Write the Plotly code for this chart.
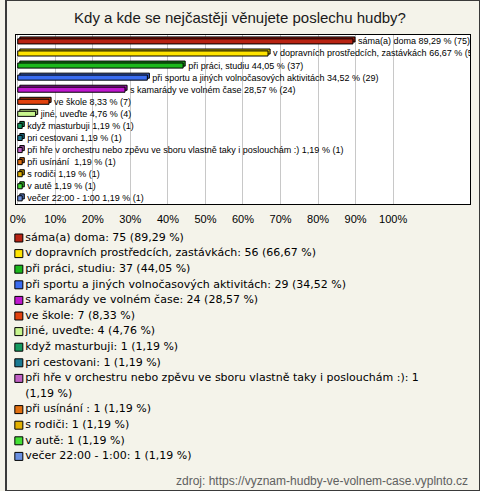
import textwrap
import plotly.graph_objects as go

title = "Kdy a kde se nejčastěji věnujete poslechu hudby?"
source = "zdroj: https://vyznam-hudby-ve-volnem-case.vyplnto.cz"

categories = [
    "sáma(a) doma",
    "v dopravních prostředcích, zastávkách",
    "při práci, studiu",
    "při sportu a jiných volnočasových aktivitách",
    "s kamarády ve volném čase",
    "ve škole",
    "jiné, uveďte",
    "když masturbuji",
    "pri cestovani",
    "při hře v orchestru nebo zpěvu ve sboru vlastně taky i poslouchám :)",
    "při usínání ",
    "s rodiči",
    "v autě",
    "večer 22:00 - 1:00",
]
counts = [75, 56, 37, 29, 24, 7, 4, 1, 1, 1, 1, 1, 1, 1]
percents = [89.29, 66.67, 44.05, 34.52, 28.57, 8.33, 4.76, 1.19, 1.19, 1.19, 1.19, 1.19, 1.19, 1.19]
colors = [
    "#b82312", "#ffe400", "#1cb81c", "#3a6cf0", "#c018d0", "#e2420e", "#c8f68e",
    "#159a5e", "#1a7a92", "#c060c4", "#e27010", "#e2b000", "#44e034", "#6a90e0",
]
tick_vals = [0, 10, 20, 30, 40, 50, 60, 70, 80, 90, 100]
tick_text = [f"{v}%" for v in tick_vals]


def fmt(p):
    return f"{p:.2f}".replace(".", ",")


def shade(hexcol, k):
    h = hexcol.lstrip("#")
    r, g, b = (int(h[i:i + 2], 16) for i in (0, 2, 4))
    return "#%02x%02x%02x" % (int(r * k), int(g * k), int(b * k))


bar_labels = ["\u00a0\u00a0" + f"{c} {fmt(p)} % ({n})" for c, p, n in zip(categories, percents, counts)]

W, H = 480, 491
BAR_W = 0.42
DEPTH_Y = 0.13   # 3D depth (category units)
DEPTH_X = 0.55   # 3D depth (percent units)

fig = go.Figure()

# 3D back face (drawn first)
fig.add_trace(go.Bar(
    y=categories, x=percents, base=DEPTH_X, orientation="h",
    marker=dict(color=[shade(c, 0.8) for c in colors], line=dict(color="#000000", width=1)),
    width=BAR_W, offset=-BAR_W / 2 - DEPTH_Y,
    hoverinfo="skip", showlegend=False, xaxis="x", yaxis="y",
))
# front face
fig.add_trace(go.Bar(
    y=categories, x=percents, orientation="h",
    marker=dict(color=colors, line=dict(color="#000000", width=1)),
    width=BAR_W, offset=-BAR_W / 2 + 0.03,
    text=bar_labels, textposition="outside", constraintext="none",
    textfont=dict(family="Liberation Sans", size=9, color="#000000"),
    cliponaxis=True, hoverinfo="skip", showlegend=False,
    xaxis="x", yaxis="y",
))

# legend drawn as scatter on an overlay pixel-space axis
LEG_Y0 = 238
LEG_DY = 15.6
mk_x, mk_y, mk_c = [], [], []
tx_y, tx_t = [], []
line = 0
for c, p, n, col in zip(categories, percents, counts, colors):
    label = f"{c}: {n} ({fmt(p)} %)"
    parts = textwrap.wrap(label, 72)
    mk_y.append(LEG_Y0 + line * LEG_DY)
    mk_x.append(13)
    mk_c.append(col)
    for part in parts:
        tx_y.append(LEG_Y0 + line * LEG_DY)
        tx_t.append(part)
        line += 1

fig.add_trace(go.Scatter(
    x=mk_x, y=mk_y, mode="markers",
    marker=dict(symbol="square", size=8, color=mk_c, line=dict(color="#000000", width=1)),
    hoverinfo="skip", showlegend=False, xaxis="x2", yaxis="y2",
))
fig.add_trace(go.Scatter(
    x=[19.5] * len(tx_y), y=tx_y, mode="text", text=tx_t, textposition="middle right",
    textfont=dict(family="DejaVu Sans", size=11, color="#000000"),
    hoverinfo="skip", showlegend=False, xaxis="x2", yaxis="y2",
))

bg = "#f4f3ea"
fig.update_layout(
    width=W, height=H,
    margin=dict(l=0, r=0, t=0, b=0),
    paper_bgcolor=bg, plot_bgcolor="rgba(0,0,0,0)",
    showlegend=False,
    barmode="overlay",
    xaxis=dict(
        domain=[10 / W, 470 / W], range=[-0.5, 120.5],
        tickvals=tick_vals, ticktext=tick_text,
        tickfont=dict(family="Liberation Sans", size=11, color="#000000"),
        showgrid=True, gridcolor="#c8c8c8", gridwidth=1, zeroline=False,
        showline=True, mirror=True, linecolor="#000000", linewidth=1,
        ticks="", ticklabelstandoff=5, fixedrange=True, anchor="y",
    ),
    yaxis=dict(
        domain=[1 - 204 / H, 1 - 35 / H], autorange="reversed",
        showticklabels=False, showgrid=False, zeroline=False,
        showline=True, mirror=True, linecolor="#000000", linewidth=1,
        ticks="", fixedrange=True, anchor="x",
    ),
    xaxis2=dict(domain=[0, 1], range=[0, W], visible=False, anchor="y2", fixedrange=True),
    yaxis2=dict(domain=[0, 1], range=[H, 0], visible=False, anchor="x2", fixedrange=True),
    title=dict(
        text=title, x=0.5, xanchor="center", y=1 - 18 / H, yanchor="middle",
        font=dict(family="Liberation Sans", size=15, color="#1a1a1a"),
    ),
    shapes=[
        dict(type="rect", xref="x domain", yref="y domain", x0=0, x1=1, y0=0, y1=1,
             fillcolor="#ffffff", line=dict(width=0), layer="below"),
        dict(type="rect", xref="paper", yref="paper", x0=0, x1=1, y0=0, y1=1,
             line=dict(color="#3a3a3a", width=2), fillcolor="rgba(0,0,0,0)", layer="above"),
    ],
    annotations=[
        dict(text=source, xref="paper", yref="paper", x=470 / W, y=1 - 481 / H,
             xanchor="right", yanchor="middle", showarrow=False,
             font=dict(family="Liberation Sans", size=12, color="#606060")),
    ],
)

fig.write_html("out.html", config={"displayModeBar": False},
               post_script="document.body.style.margin='0px';")
